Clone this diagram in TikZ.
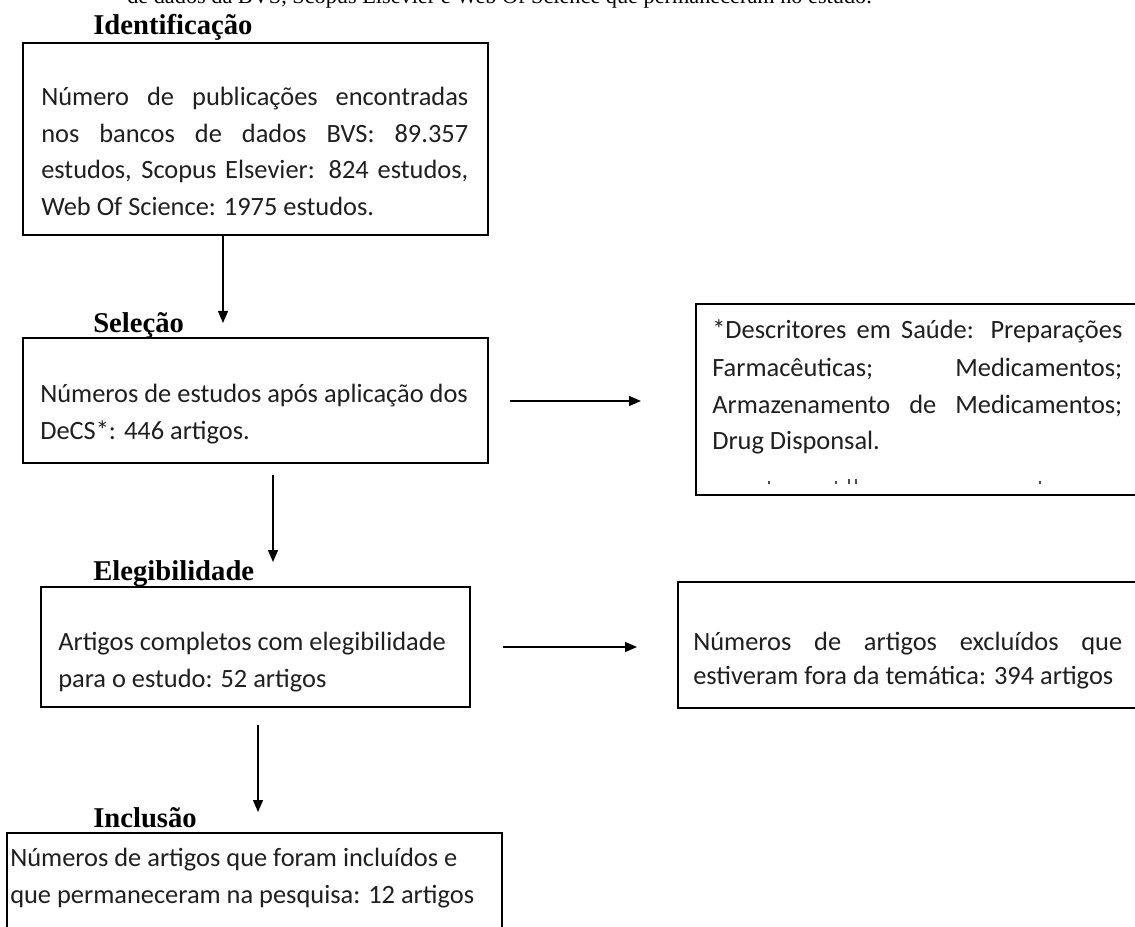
\documentclass[tikz,border=0pt]{standalone}
\usepackage{fontspec}
\setmainfont{Liberation Serif}
\newfontfamily\calfont{Carlito}
\usetikzlibrary{arrows.meta,fit}
\newcommand\jline[2]{\makebox[#1][s]{#2}}
\begin{document}
\begin{tikzpicture}[x=0.75pt,y=-0.75pt,
  box/.style={draw=black, line width=1pt, inner sep=0pt},
  lbl/.style={font=\fontsize{21.5}{24}\selectfont\bfseries, anchor=base west, inner sep=0pt},
  txt/.style={font=\calfont\fontsize{19.8}{27.75}\selectfont, anchor=base west, inner sep=0pt, text=black!88},
  arr/.style={-{Triangle[length=9pt,width=7.5pt]}, line width=1pt},
  speck/.style={fill=black!70, draw=none}]
\useasboundingbox (0,0) rectangle (1135,927);
\clip (0,0) rectangle (1135,927);
\fill[white] (0,0) rectangle (1135,927);

% cut-off caption line at the top
\node[anchor=base west, inner sep=0pt, font=\fontsize{16.7}{20}\selectfont] (cap) at (127,4)
  {de dados da BVS, Scopus Elsevier e Web Of Science que permaneceram no estudo.};

% labels
\node[lbl] (lid) at (93,35) {Identificação};
\node[lbl] (lsel) at (93,332) {Seleção};
\node[lbl] (lele) at (93,580) {Elegibilidade};
\node[lbl] (linc) at (93,827) {Inclusão};

% boxes
\node[box, fit={(23,43) (488,235)}] (b1) {};
\node[box, fit={(23,338) (488,463)}] (b2) {};
\node[box, fit={(696,304) (1145,495)}] (r1) {};
\node[box, fit={(41,587) (470,707)}] (b3) {};
\node[box, fit={(678,582) (1145,708)}] (r2) {};
\node[box, fit={(7,833) (502,940)}] (b5) {};

% box 1 text
\node[txt] (t11) at (41,106) {\jline{320.25pt}{Número de publicações encontradas}};
\node[txt] (t12) at (41,143) {\jline{320.25pt}{nos bancos de dados BVS: 89.357}};
\node[txt] (t13) at (41,179) {\jline{320.25pt}{estudos, Scopus Elsevier: 824 estudos,}};
\node[txt] (t14) at (41,216) {Web Of Science: 1975 estudos.};

% box 2 text
\node[txt] (t21) at (40,402) {Números de estudos após aplicação dos};
\node[txt] (t22) at (40,439) {DeCS*: 446 artigos.};

% right box 1 text
\node[txt] (tr11) at (712,339) {\jline{307.5pt}{*Descritores em Saúde: Preparações}};
\node[txt] (tr12) at (712,376) {\jline{307.5pt}{Farmacêuticas; Medicamentos;}};
\node[txt] (tr13) at (712,413) {\jline{307.5pt}{Armazenamento de Medicamentos;}};
\node[txt] (tr14) at (712,449) {Drug Disponsal.};
% remnants of a cut-off line
\fill[speck] (768,481) rectangle (770,484);
\fill[speck] (835,481) rectangle (837,484);
\fill[speck] (848,479) rectangle (850,484);
\fill[speck] (855,479) rectangle (857,484);
\fill[speck] (1039,481) rectangle (1041,484);

% box 3 text
\node[txt] (t31) at (58,650) {Artigos completos com elegibilidade};
\node[txt] (t32) at (58,687) {para o estudo: 52 artigos};

% right box 2 text
\node[txt] (tr21) at (693,650) {\jline{321.75pt}{Números de artigos excluídos que}};
\node[txt] (tr22) at (693,684) {estiveram fora da temática: 394 artigos};

% box 5 text
\node[txt] (t51) at (10,866) {Números de artigos que foram incluídos e};
\node[txt] (t52) at (10,903) {que permaneceram na pesquisa: 12 artigos};

% connectors
\coordinate (a1e) at (223,323);
\coordinate (a2s) at (273,475);
\coordinate (a2e) at (273,562);
\coordinate (a3s) at (258,725);
\coordinate (a3e) at (258,812);
\coordinate (h1s) at (510,401);
\coordinate (h1e) at (641,401);
\coordinate (h2s) at (503,647);
\coordinate (h2e) at (637,647);
\draw[arr] (b1.south -| a1e) -- (a1e);
\draw[arr] (a2s) -- (a2e);
\draw[arr] (a3s) -- (a3e);
\draw[arr] (h1s) -- (h1e);
\draw[arr] (h2s) -- (h2e);
\end{tikzpicture}
\end{document}
